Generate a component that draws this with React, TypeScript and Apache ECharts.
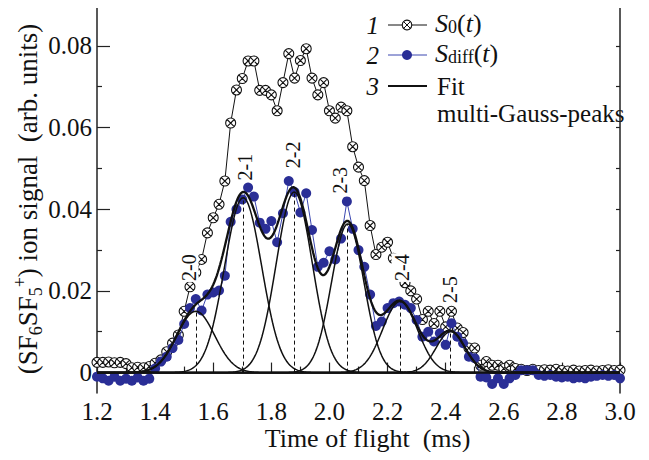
import React, { useEffect, useRef } from 'react';
import * as echarts from 'echarts';

const FONT = 'Liberation Serif';

// Time of flight samples (ms)
const times = [
  1.20, 1.22, 1.24, 1.26, 1.28, 1.30, 1.32, 1.34, 1.36, 1.38,
  1.40, 1.42, 1.44, 1.46, 1.48, 1.50, 1.52, 1.54, 1.56, 1.58,
  1.60, 1.62, 1.64, 1.66, 1.68, 1.70, 1.72, 1.74, 1.76, 1.78,
  1.80, 1.82, 1.84, 1.86, 1.88, 1.90, 1.92, 1.94, 1.96, 1.98,
  2.00, 2.02, 2.04, 2.06, 2.08, 2.10, 2.12, 2.14, 2.16, 2.18,
  2.20, 2.22, 2.24, 2.26, 2.28, 2.30, 2.32, 2.34, 2.36, 2.38,
  2.40, 2.42, 2.44, 2.46, 2.48, 2.50, 2.52, 2.54, 2.56, 2.58,
  2.60, 2.62, 2.64, 2.66, 2.68, 2.70, 2.72, 2.74, 2.76, 2.78,
  2.80, 2.82, 2.84, 2.86, 2.88, 2.90, 2.92, 2.94, 2.96, 2.98,
  3.00,
];

// Curve 1: S0(t)
const s0 = [
  0.0025, 0.0025, 0.0026, 0.0024, 0.0025, 0.0022, 0.0012, 0.0013, 0.0012, 0.0015,
  0.0023, 0.0031, 0.0051, 0.0072, 0.0092, 0.0150, 0.0210, 0.0245, 0.0277, 0.0342,
  0.0379, 0.0412, 0.0469, 0.0611, 0.0692, 0.0720, 0.0763, 0.0763, 0.0691, 0.0691,
  0.0680, 0.0641, 0.0710, 0.0781, 0.0721, 0.0764, 0.0793, 0.0721, 0.0680, 0.0710,
  0.0641, 0.0623, 0.0650, 0.0641, 0.0553, 0.0503, 0.0470, 0.0360, 0.0289, 0.0307,
  0.0319, 0.0280, 0.0250, 0.0220, 0.0200, 0.0180, 0.0130, 0.0150, 0.0120, 0.0150,
  0.0112, 0.0150, 0.0109, 0.0098, 0.0060, 0.0060, 0.0018, 0.0027, 0.0018, 0.0018,
  0.0010, 0.0018, 0.0010, 0.0008, 0.0005, 0.0008, 0.0005, 0.0007, 0.0006, 0.0008,
  0.0005, 0.0004, 0.0006, 0.0004, 0.0005, 0.0006, 0.0004, 0.0005, 0.0007, 0.0005,
  0.0006,
];

// Curve 2: Sdiff(t)
const sDiff = [
  -0.0010, -0.0014, -0.0020, -0.0010, -0.0020, -0.0015, -0.0020, -0.0012, -0.0020, -0.0015,
  0.0010, 0.0027, 0.0039, 0.0060, 0.0080, 0.0119, 0.0158, 0.0180, 0.0152, 0.0191,
  0.0196, 0.0201, 0.0237, 0.0369, 0.0400, 0.0424, 0.0453, 0.0431, 0.0367, 0.0352,
  0.0371, 0.0319, 0.0390, 0.0469, 0.0442, 0.0392, 0.0439, 0.0349, 0.0259, 0.0269,
  0.0297, 0.0277, 0.0328, 0.0419, 0.0352, 0.0300, 0.0259, 0.0191, 0.0114, 0.0125,
  0.0158, 0.0170, 0.0174, 0.0166, 0.0158, 0.0129, 0.0088, 0.0100, 0.0076, 0.0096,
  0.0068, 0.0121, 0.0088, 0.0072, 0.0039, 0.0035, -0.0010, -0.0012, -0.0028, -0.0014,
  -0.0028, -0.0014, -0.0006, 0.0006, 0.0006, 0.0006, -0.0006, -0.0008, -0.0006, -0.0010,
  -0.0012, -0.0010, -0.0014, -0.0012, -0.0014, -0.0010, -0.0008, -0.0006, -0.0008, -0.0006,
  -0.0014,
];

// Curve 3: multi-Gauss fit parameters
const peakNames = ['2-0', '2-1', '2-2', '2-3', '2-4', '2-5'];
const peakCenters = [1.540, 1.703, 1.879, 2.063, 2.243, 2.417];
const peakHeights = [0.0150, 0.0428, 0.0442, 0.0364, 0.0174, 0.0100];
const peakWidths = [0.065, 0.064, 0.062, 0.056, 0.060, 0.050];

// Peak label anchors (data coordinates)
const peakLabelT = [1.515, 1.711, 1.876, 2.038, 2.248, 2.416];
const peakLabelV = [0.0257, 0.0503, 0.0533, 0.0471, 0.0257, 0.0203];

// Axis ticks
const xMajor = [1.2, 1.4, 1.6, 1.8, 2.0, 2.2, 2.4, 2.6, 2.8, 3.0];
const xMinor = [1.3, 1.5, 1.7, 1.9, 2.1, 2.3, 2.5, 2.7, 2.9];
const yMajor = [0, 0.02, 0.04, 0.06, 0.08];
const yMinor = [0.01, 0.03, 0.05, 0.07];
const yRight = [0, 0.01, 0.02, 0.03, 0.04, 0.05, 0.06, 0.07, 0.08];

const X_MIN = 1.2;
const X_MAX = 3.0;
const Y_MIN = -0.005;
const Y_MAX = 0.09;

const gauss = (t: number, i: number) =>
  peakHeights[i] * Math.exp(-((t - peakCenters[i]) ** 2) / (2 * peakWidths[i] ** 2));

const fitT: number[] = [];
for (let t = X_MIN; t <= X_MAX + 1e-9; t += 0.004) fitT.push(+t.toFixed(4));

const OTIMES =
  'path://M10,0A10,10,0,1,1,10,20A10,10,0,1,1,10,0ZM2.93,2.93L17.07,17.07M2.93,17.07L17.07,2.93';

const BLUE = '#2a2e96';
const BLUE_LINE = '#3a46b0';

export default function App() {
  const ref = useRef<HTMLDivElement>(null);

  useEffect(() => {
    if (!ref.current) return;
    const chart = echarts.init(ref.current, undefined, { renderer: 'svg' });

    const gaussSeries = peakCenters.map((c, i) => ({
      type: 'line',
      data: fitT.map((t) => [t, gauss(t, i)]),
      showSymbol: false,
      symbol: 'none',
      lineStyle: { color: '#111', width: 1.5 },
      z: 4,
      silent: true,
      markLine: {
        silent: true,
        symbol: ['none', 'none'],
        label: { show: false },
        lineStyle: { color: '#111', type: [4, 3], width: 1 },
        data: [[{ coord: [c, 0] }, { coord: [c, peakHeights[i]] }]],
      },
    }));

    const sumSeries = {
      type: 'line',
      data: fitT.map((t) => [t, peakCenters.reduce((acc, _c, i) => acc + gauss(t, i), 0)]),
      showSymbol: false,
      symbol: 'none',
      lineStyle: { color: '#111', width: 2.3 },
      z: 5,
      silent: true,
    };

    const axisLineStyle = { color: '#222', width: 1.5 };
    const tickStyle = { color: '#222', width: 1.2 };

    const legendX0 = 388;
    const legendX1 = 427;
    const legendMid = 407;
    const rowY = [25, 55, 86];
    const numStyle = { fontFamily: FONT, fontSize: 25, fontStyle: 'italic', fill: '#111' };
    const richLegend = {
      i: { fontFamily: FONT, fontSize: 26, fontStyle: 'italic', fill: '#111' },
      n: { fontFamily: FONT, fontSize: 26, fill: '#111' },
      s: { fontFamily: FONT, fontSize: 18, fill: '#111', verticalAlign: 'bottom', lineHeight: 18 },
    };

    chart.setOption({
      animation: false,
      backgroundColor: '#fff',
      textStyle: { fontFamily: FONT },
      grid: { left: 97, right: 29, top: 5, bottom: 67, containLabel: false },
      xAxis: [
        {
          type: 'value',
          min: X_MIN,
          max: X_MAX,
          position: 'bottom',
          axisLine: { show: true, lineStyle: axisLineStyle },
          axisTick: { show: true, inside: true, length: 10, customValues: xMajor, lineStyle: tickStyle },
          axisLabel: {
            show: true,
            customValues: xMajor,
            formatter: (v: number) => v.toFixed(1),
            fontFamily: FONT,
            fontSize: 25,
            color: '#111',
            margin: 6,
            hideOverlap: false,
          },
          splitLine: { show: false },
          name: 'Time of flight  (ms)',
          nameLocation: 'middle',
          nameGap: 32,
          nameMoveOverlap: false,
          nameTextStyle: { fontFamily: FONT, fontSize: 26, color: '#111', padding: [0, 0, 0, 18] },
        },
        {
          type: 'value',
          min: X_MIN,
          max: X_MAX,
          position: 'bottom',
          axisLine: { show: false },
          axisTick: { show: true, inside: true, length: 6, customValues: xMinor, lineStyle: tickStyle },
          axisLabel: { show: false },
          splitLine: { show: false },
        },
        {
          type: 'value',
          min: X_MIN,
          max: X_MAX,
          position: 'top',
          axisLine: { show: true, lineStyle: axisLineStyle },
          axisTick: { show: false },
          axisLabel: { show: false },
          splitLine: { show: false },
        },
      ],
      yAxis: [
        {
          type: 'value',
          min: Y_MIN,
          max: Y_MAX,
          position: 'left',
          axisLine: { show: true, lineStyle: axisLineStyle },
          axisTick: { show: true, inside: true, length: 13, customValues: yMajor, lineStyle: tickStyle },
          axisLabel: {
            show: true,
            customValues: yMajor,
            formatter: (v: number) => (v === 0 ? '0' : v.toFixed(2)),
            fontFamily: FONT,
            fontSize: 25,
            color: '#111',
            margin: 5,
          },
          splitLine: { show: false },
          name:
            '{p|(SF}{sub|6}{p|SF}{sub|5}{sup|+}{p|) ion signal  (arb. units)}',
          nameLocation: 'middle',
          nameGap: 52,
          nameMoveOverlap: false,
          nameTextStyle: {
            color: '#111',
            fontFamily: FONT,
            rich: {
              p: { fontFamily: FONT, fontSize: 27, color: '#111', lineHeight: 34 },
              sub: { fontFamily: FONT, fontSize: 18, color: '#111', verticalAlign: 'bottom', lineHeight: 18 },
              sup: { fontFamily: FONT, fontSize: 18, color: '#111', verticalAlign: 'top', lineHeight: 18 },
            },
          },
        },
        {
          type: 'value',
          min: Y_MIN,
          max: Y_MAX,
          position: 'left',
          axisLine: { show: false },
          axisTick: { show: true, inside: true, length: 5, customValues: yMinor, lineStyle: tickStyle },
          axisLabel: { show: false },
          splitLine: { show: false },
        },
        {
          type: 'value',
          min: Y_MIN,
          max: Y_MAX,
          position: 'right',
          axisLine: { show: true, lineStyle: axisLineStyle },
          axisTick: { show: true, inside: true, length: 4, customValues: yRight, lineStyle: tickStyle },
          axisLabel: { show: false },
          splitLine: { show: false },
        },
      ],
      series: [
        {
          type: 'line',
          name: 'S0',
          data: times.map((t, i) => [t, s0[i]]),
          symbol: OTIMES,
          symbolSize: 10,
          symbolKeepAspect: true,
          showAllSymbol: true,
          lineStyle: { color: '#111', width: 1 },
          itemStyle: { color: '#fff', borderColor: '#111', borderWidth: 1.1 },
          z: 2,
          silent: true,
        },
        {
          type: 'line',
          name: 'Sdiff',
          data: times.map((t, i) => [t, sDiff[i]]),
          symbol: 'circle',
          symbolSize: 10,
          showAllSymbol: true,
          lineStyle: { color: BLUE_LINE, width: 1 },
          itemStyle: { color: BLUE, borderWidth: 0 },
          z: 3,
          silent: true,
        },
        ...gaussSeries,
        sumSeries,
        {
          type: 'scatter',
          data: peakNames.map((n, i) => ({ name: n, value: [peakLabelT[i], peakLabelV[i]] })),
          symbolSize: 1,
          itemStyle: { color: 'rgba(0,0,0,0)', opacity: 1 },
          z: 6,
          silent: true,
          label: {
            show: true,
            position: 'inside',
            rotate: 90,
            formatter: (p: any) => p.name,
            fontFamily: FONT,
            fontSize: 20,
            color: '#111',
            opacity: 1,
            backgroundColor: '#fff',
            padding: [0, 1],
          },
        },
      ],
      graphic: [
        // legend row 1
        { type: 'text', x: 379, y: rowY[0], style: { ...numStyle, text: '1', align: 'right', verticalAlign: 'middle' } },
        { type: 'line', shape: { x1: legendX0, y1: rowY[0], x2: legendX1, y2: rowY[0] }, style: { stroke: '#111', lineWidth: 1 } },
        { type: 'circle', shape: { cx: legendMid, cy: rowY[0], r: 4.8 }, style: { fill: '#fff', stroke: '#111', lineWidth: 1.1 } },
        { type: 'line', shape: { x1: legendMid - 3.4, y1: rowY[0] - 3.4, x2: legendMid + 3.4, y2: rowY[0] + 3.4 }, style: { stroke: '#111', lineWidth: 1 } },
        { type: 'line', shape: { x1: legendMid - 3.4, y1: rowY[0] + 3.4, x2: legendMid + 3.4, y2: rowY[0] - 3.4 }, style: { stroke: '#111', lineWidth: 1 } },
        {
          type: 'text',
          x: 435,
          y: rowY[0] - 2,
          style: { text: '{i|S}{s|0}{n|(}{i|t}{n|)}', rich: richLegend, verticalAlign: 'middle' },
        },
        // legend row 2
        { type: 'text', x: 379, y: rowY[1], style: { ...numStyle, text: '2', align: 'right', verticalAlign: 'middle' } },
        { type: 'line', shape: { x1: legendX0, y1: rowY[1], x2: legendX1, y2: rowY[1] }, style: { stroke: BLUE_LINE, lineWidth: 1 } },
        { type: 'circle', shape: { cx: legendMid, cy: rowY[1], r: 5 }, style: { fill: BLUE } },
        {
          type: 'text',
          x: 435,
          y: rowY[1] - 2,
          style: { text: '{i|S}{s|diff}{n|(}{i|t}{n|)}', rich: richLegend, verticalAlign: 'middle' },
        },
        // legend row 3
        { type: 'text', x: 379, y: rowY[2], style: { ...numStyle, text: '3', align: 'right', verticalAlign: 'middle' } },
        { type: 'line', shape: { x1: legendX0, y1: rowY[2], x2: legendX1, y2: rowY[2] }, style: { stroke: '#111', lineWidth: 2 } },
        { type: 'text', x: 437, y: rowY[2], style: { text: 'Fit', fontFamily: FONT, fontSize: 25, fill: '#111', verticalAlign: 'middle' } },
        {
          type: 'text',
          x: 437,
          y: 113,
          style: { text: 'multi-Gauss-peaks', fontFamily: FONT, fontSize: 25, fill: '#111', verticalAlign: 'middle' },
        },
      ],
    });

    return () => chart.dispose();
  }, []);

  return <div ref={ref} style={{ width: 649, height: 460, margin: -8 }} />;
}
